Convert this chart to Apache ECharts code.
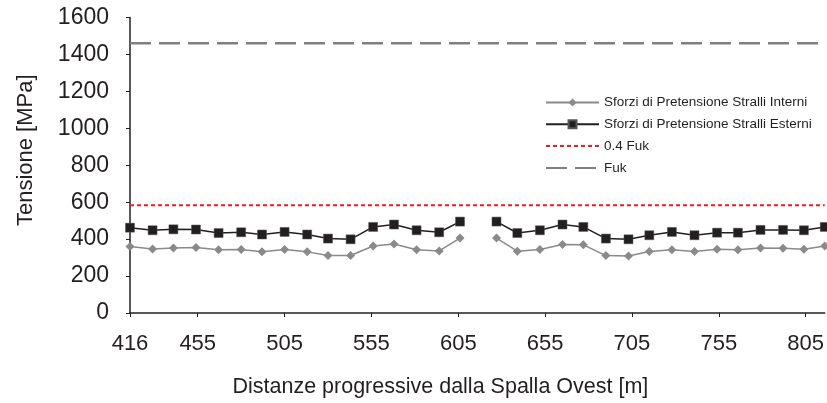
<!DOCTYPE html>
<html>
<head>
<meta charset="utf-8">
<script src="https://cdn.jsdelivr.net/npm/echarts@6/dist/echarts.min.js"></script>
<style>
html, body { margin: 0; padding: 0; background: #fff; }
#main { width: 827px; height: 403px; }
</style>
</head>
<body>
<div id="main"></div>
<script>
// distanze progressive [m] (null = interruzione in campata centrale)
var distanze = [416, 429, 441, 454, 467, 480, 492, 505, 518, 530, 543, 556, 568, 581, 594, 606,
	616,
	627, 639, 652, 665, 677, 690, 703, 715, 728, 741, 754, 766, 779, 792, 804, 816];
var stralliInterni = [360, 347, 352, 355, 342, 344, 331, 344, 331, 311, 311, 363, 374, 342, 336, 406,
	null,
	406, 335, 344, 371, 369, 311, 309, 333, 342, 333, 345, 342, 352, 351, 345, 363];
var stralliEsterni = [462, 448, 453, 452, 433, 437, 425, 439, 425, 403, 399, 466, 479, 448, 437, 495,
	null,
	495, 433, 448, 479, 466, 403, 399, 421, 439, 421, 435, 435, 450, 450, 448, 466];
var fuk = 1460;
var fuk04 = 584;
var xTicks = [416, 455, 505, 555, 605, 655, 705, 755, 805];
var xMin = 416, xMax = 816;

var FONT = '"Liberation Sans", Arial, sans-serif';
var TXT = '#231f20';

function pairs(vals) {
	return distanze.map(function (d, i) {
		return [d, vals[i] == null ? '-' : vals[i]];
	});
}

var chart = echarts.init(document.getElementById('main'));

var option = {
	animation: false,
	grid: { left: 130, top: 17.5, right: 0, bottom: 89 },
	legend: {
		orient: 'vertical',
		left: 545,
		top: 95.5,
		padding: 0,
		itemWidth: 53,
		itemHeight: 10,
		itemGap: 7.8,
		textStyle: { fontFamily: FONT, fontSize: 13.5, color: TXT },
		data: [
			'Sforzi di Pretensione Stralli Interni',
			'Sforzi di Pretensione Stralli Esterni',
			{ name: '0.4 Fuk', itemStyle: { opacity: 0 } },
			{ name: 'Fuk', itemStyle: { opacity: 0 } }
		]
	},
	xAxis: {
		type: 'value',
		min: xMin,
		max: xMax,
		name: 'Distanze progressive dalla Spalla Ovest [m]',
		nameLocation: 'middle',
		nameGap: 63,
		nameTextStyle: { fontFamily: FONT, fontSize: 21.5, color: TXT, padding: [0, 74, 0, 0] },
		axisLine: { lineStyle: { color: TXT, width: 1.5 } },
		axisTick: { length: 4, lineStyle: { color: TXT, width: 1 }, customValues: xTicks },
		axisLabel: { customValues: xTicks, fontFamily: FONT, fontSize: 22, color: TXT, margin: 20,
			formatter: function (v) { return String(v); } },
		splitLine: { show: false }
	},
	yAxis: {
		type: 'value',
		min: 0,
		max: 1600,
		interval: 200,
		name: 'Tensione [MPa]',
		nameLocation: 'middle',
		nameGap: 93,
		nameTextStyle: { fontFamily: FONT, fontSize: 22, color: TXT, padding: [0, 0, 0, 30] },
		axisLine: { show: true, lineStyle: { color: TXT, width: 1.5 } },
		axisTick: { show: true, length: 4, lineStyle: { color: TXT, width: 1 } },
		axisLabel: { fontFamily: FONT, fontSize: 23, color: TXT, margin: 21,
			formatter: function (v) { return String(v); } },
		splitLine: { show: false }
	},
	series: [
		{
			name: 'Sforzi di Pretensione Stralli Interni',
			type: 'line',
			data: pairs(stralliInterni),
			symbol: 'diamond',
			symbolSize: 9,
			itemStyle: { color: '#8a8a8a' },
			lineStyle: { color: '#8a8a8a', width: 1.5 },
			z: 3
		},
		{
			name: 'Sforzi di Pretensione Stralli Esterni',
			type: 'line',
			data: pairs(stralliEsterni),
			symbol: 'rect',
			symbolSize: 9,
			itemStyle: { color: '#231f20', borderColor: '#555', borderWidth: 0.5 },
			lineStyle: { color: '#231f20', width: 1.5 },
			z: 4
		},
		{
			name: '0.4 Fuk',
			type: 'line',
			data: [[xMin, fuk04], [xMax, fuk04]],
			symbol: 'none',
			itemStyle: { color: '#ed1c24' },
			lineStyle: { color: '#ed1c24', width: 2, type: [4, 3] },
			z: 2
		},
		{
			name: 'Fuk',
			type: 'line',
			data: [[xMin, fuk], [xMax, fuk]],
			symbol: 'none',
			itemStyle: { color: '#808080' },
			lineStyle: { color: '#808080', width: 2.5, type: [21, 8] },
			z: 2
		}
	]
};

chart.setOption(option);
</script>
</body>
</html>
